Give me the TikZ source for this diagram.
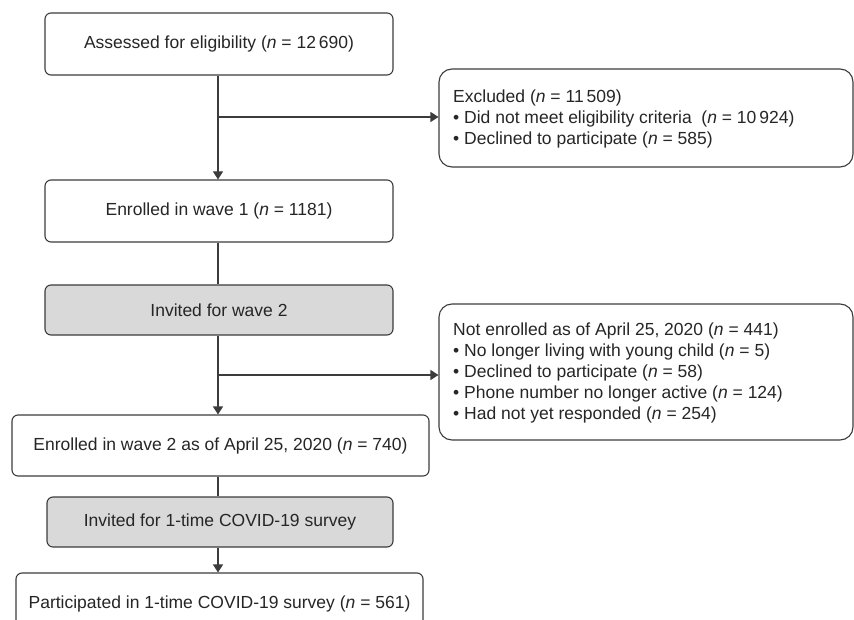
\documentclass[tikz,border=0pt]{standalone}
\usepackage{fontspec}
\setmainfont{Liberation Sans}
\usetikzlibrary{arrows.meta}
\definecolor{ln}{HTML}{3C3C3C}
\definecolor{gr}{HTML}{D9D9D9}
\begin{document}
\begin{tikzpicture}[x=1pt,y=-1pt,
  box/.style={draw=ln, line width=1.1pt, rounded corners=6pt, fill=white, inner sep=0pt, font=\fontsize{17.5}{20}\selectfont, text=black!85},
  gbox/.style={box, fill=gr},
  sidebox/.style={draw=ln, line width=1.1pt, rounded corners=13pt, fill=white, inner sep=0pt},
  sidetext/.style={anchor=west, align=left, inner sep=0pt, font=\fontsize{17.5}{21}\selectfont, text=black!85},
  ln/.style={draw=ln, line width=1.1pt},
  arr/.style={ln, -{Triangle[width=10pt,length=8pt]}}]
\useasboundingbox (0,0) rectangle (854,620);
\clip (0,0) rectangle (854,620);
\fill[white] (0,0) rectangle (854,620);
% main column
\node[box, minimum width=348pt, minimum height=62pt] (b1) at (219,44) {Assessed for eligibility (\textit{n} = 12\,690)};
\node[box, minimum width=348pt, minimum height=62pt] (b2) at (219,211) {Enrolled in wave 1 (\textit{n} = 1181)};
\node[gbox, minimum width=348pt, minimum height=50pt] (b3) at (219,310) {Invited for wave 2};
\node[box, minimum width=417pt, minimum height=61pt] (b4) at (220.5,445.5) {Enrolled in wave 2 as of April 25, 2020 (\textit{n} = 740)};
\node[gbox, minimum width=346pt, minimum height=50pt] (b5) at (220,522) {Invited for 1-time COVID-19 survey};
\node[box, minimum width=407pt, minimum height=62pt] (b6) at (219.5,604) {Participated in 1-time COVID-19 survey (\textit{n} = 561)};
% side boxes
\node[sidebox, minimum width=414pt, minimum height=98pt] (ex) at (646,118) {};
\node[sidetext] (ext) at (453,119) {Excluded (\textit{n} = 11\,509)\\
\textbullet{} Did not meet eligibility criteria~ (\textit{n} = 10\,924)\\
\textbullet{} Declined to participate (\textit{n} = 585)};
\node[sidebox, minimum width=414pt, minimum height=136pt] (ne) at (646,372) {};
\node[sidetext] (net) at (453,373) {Not enrolled as of April 25, 2020 (\textit{n} = 441)\\
\textbullet{} No longer living with young child (\textit{n} = 5)\\
\textbullet{} Declined to participate (\textit{n} = 58)\\
\textbullet{} Phone number no longer active (\textit{n} = 124)\\
\textbullet{} Had not yet responded (\textit{n} = 254)};
% connectors
\coordinate (br1) at (218,117);
\coordinate (br2) at (218,375);
\draw[arr] (b1.south -| br1) -- (b2.north -| br1);
\draw[arr] (br1) -- (br1 -| ex.west);
\draw[ln] (b2.south -| br1) -- (b3.north -| br1);
\draw[arr] (b3.south -| br2) -- (b4.north -| br2);
\draw[arr] (br2) -- (br2 -| ne.west);
\draw[ln] (b4.south -| br2) -- (b5.north -| br2);
\draw[arr] (b5.south -| br2) -- (b6.north -| br2);
\end{tikzpicture}
\end{document}
